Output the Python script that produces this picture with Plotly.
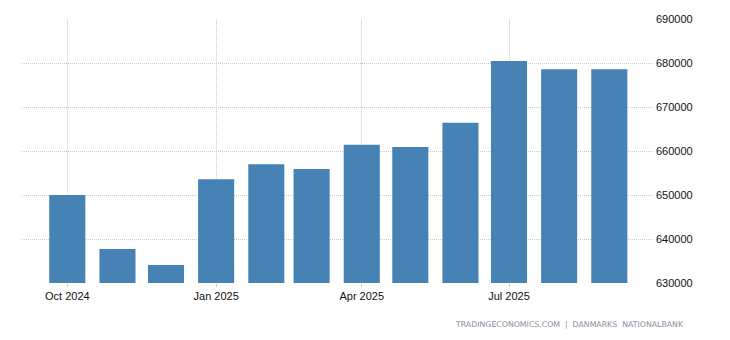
import plotly.graph_objects as go

# Monthly values (month start dates)
months = ["2024-10-01", "2024-11-01", "2024-12-01", "2025-01-01", "2025-02-01",
          "2025-03-01", "2025-04-01", "2025-05-01", "2025-06-01", "2025-07-01",
          "2025-08-01", "2025-09-01"]
values = [650000, 637700, 634100, 653600, 657000, 655900,
          661400, 660900, 666400, 680450, 678600, 678600]

y_ticks = [630000, 640000, 650000, 660000, 670000, 680000, 690000]
source_text = "TRADINGECONOMICS.COM  |  DANMARKS  NATIONALBANK"

DAY_MS = 86400000
bar_width = 22.3 * DAY_MS

fig = go.Figure(go.Bar(
    x=months,
    y=values,
    width=[bar_width] * len(months),
    marker=dict(color="#4682b4", line=dict(width=0)),
))

fig.update_layout(
    width=730,
    height=340,
    margin=dict(l=22, r=77, t=19, b=57),
    paper_bgcolor="white",
    plot_bgcolor="white",
    showlegend=False,
    font=dict(family="Liberation Sans, Arial, sans-serif", size=11, color="#111111"),
    xaxis=dict(
        type="date",
        range=["2024-09-03", "2025-09-28"],
        tick0="2024-10-01",
        dtick="M3",
        tickformat="%b %Y",
        showgrid=True,
        gridcolor="#cccccc",
        griddash="1px,1px",
        gridwidth=1,
        ticks="outside",
        ticklen=3,
        tickcolor="#cccccc",
        ticklabelstandoff=0,
        showline=False,
        zeroline=False,
        fixedrange=True,
    ),
    yaxis=dict(
        side="right",
        range=[630000, 690000],
        tickvals=y_ticks,
        ticktext=[str(v) for v in y_ticks],
        showgrid=True,
        gridcolor="#cccccc",
        griddash="1px,1px",
        gridwidth=1,
        zeroline=False,
        showline=False,
        ticks="",
        ticklabelstandoff=2,
        fixedrange=True,
    ),
    annotations=[dict(
        text=source_text,
        xref="paper", yref="paper",
        x=1.0, y=0,
        xanchor="right", yanchor="middle",
        xshift=33, yshift=-41,
        showarrow=False,
        font=dict(family="DejaVu Sans, sans-serif", size=7.8, color="#8c8c9c"),
    )],
)

fig.write_html("out.html")
